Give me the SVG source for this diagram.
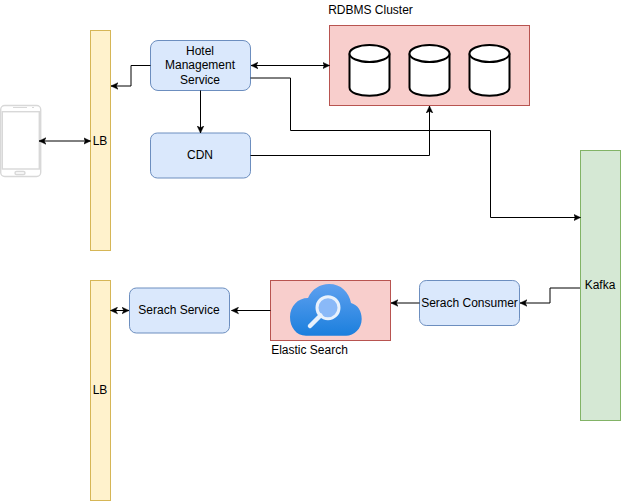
<svg xmlns="http://www.w3.org/2000/svg" width="621" height="501" viewBox="0 0 621 501">
<style>
text{font-family:"Liberation Sans",Arial,sans-serif;font-size:12px;fill:#000;text-anchor:middle}
.lb{fill:#fff2cc;stroke:#d6b656}
.blue{fill:#dae8fc;stroke:#6c8ebf}
.red{fill:#f8cecc;stroke:#b85450}
.green{fill:#d5e8d4;stroke:#82b366}
.c{fill:none;stroke:#000;stroke-width:1}
.db{fill:#fff;stroke:#000;stroke-width:2}
.ph{fill:#fff;stroke:#d8d8d8;stroke-width:1.4}
</style>
<defs>
<marker id="a" markerUnits="userSpaceOnUse" markerWidth="8" markerHeight="8" refX="7" refY="4" orient="auto-start-reverse"><path d="M0 0.700L7 4L0 7.300L1.800 4Z" fill="#000" stroke="#000" stroke-width="0.500"/></marker>
<linearGradient id="cloud" x1="0" y1="0" x2="0" y2="1"><stop offset="0" stop-color="#5ea0ef"/><stop offset="1" stop-color="#1b7fdd"/></linearGradient>
</defs>
<g id="phone">
<rect class="ph" x="0.700" y="105.500" width="40" height="71" rx="4"/>
<rect class="ph" x="2.300" y="111.700" width="37" height="57.300"/>
<rect class="ph" x="15" y="171.500" width="10" height="3" rx="1.500" stroke-width="0.800"/>
<path d="M13 107.500H27M32 107.500H34" stroke="#d8d8d8" stroke-width="1.200" fill="none"/>
</g>
<g id="lb-top"><rect class="lb" x="90.500" y="30.500" width="20" height="220"/><text x="100" y="145">LB</text></g>
<g id="lb-bottom"><rect class="lb" x="90.500" y="280.500" width="20" height="220"/><text x="100" y="394">LB</text></g>
<g id="hotel"><rect class="blue" x="150.500" y="40.500" width="100" height="50" rx="7.500"/><text x="200" y="55">Hotel</text><text x="200" y="69">Management</text><text x="200" y="84">Service</text></g>
<g id="cdn"><rect class="blue" x="150.500" y="133" width="100" height="45" rx="6.750"/><text x="200" y="159">CDN</text></g>
<g id="rdbms"><rect class="red" x="329.500" y="25.500" width="200" height="80"/><text x="370.500" y="14">RDBMS Cluster</text>
<path class="db" d="M349.500 53.500V87.500C349.500 98.500 389.500 98.500 389.500 87.500V53.500"/><ellipse class="db" cx="369.500" cy="53.500" rx="20" ry="8.500"/>
<path class="db" d="M409.500 53.500V87.500C409.500 98.500 449.500 98.500 449.500 87.500V53.500"/><ellipse class="db" cx="429.500" cy="53.500" rx="20" ry="8.500"/>
<path class="db" d="M469.500 53.500V87.500C469.500 98.500 509.500 98.500 509.500 87.500V53.500"/><ellipse class="db" cx="489.500" cy="53.500" rx="20" ry="8.500"/>
</g>
<g id="kafka"><rect class="green" x="580.500" y="150.500" width="40" height="270"/><text x="600" y="289">Kafka</text></g>
<g id="consumer"><rect class="blue" x="419.500" y="280.500" width="100" height="45" rx="6.750"/><text x="469.500" y="307">Serach Consumer</text></g>
<g id="elastic"><rect class="red" x="270.500" y="280.500" width="120" height="60"/>
<path d="M306 335.700C296 335.700 290 327 290 317C290 306 298 298 308 298C312 289 320 284 329 284C341 284 349 292 351 303C358 305 361.700 311 361.700 319C361.700 329 354 335.700 346 335.700Z" fill="url(#cloud)"/>
<circle cx="328" cy="307.700" r="11" fill="#8ab9f8" stroke="#e8f1fc" stroke-width="3"/>
<path d="M320.500 315.500L310 326" stroke="#e8f1fc" stroke-width="4.500" stroke-linecap="round"/>
<text x="309.500" y="354">Elastic Search</text></g>
<g id="search"><rect class="blue" x="129.500" y="288" width="100" height="45" rx="6.750"/><text x="179" y="314">Serach Service</text></g>
<g id="connectors">
<path class="c" d="M39 141H90.500" marker-start="url(#a)" marker-end="url(#a)"/>
<path class="c" d="M150.500 65.500H131V86H111" marker-end="url(#a)"/>
<path class="c" d="M200.500 90.500V133" marker-end="url(#a)"/>
<path class="c" d="M251 65.500H329.500" marker-start="url(#a)" marker-end="url(#a)"/>
<path class="c" d="M250.500 78H290.500V130.500H490.500V217.500H580.500" marker-end="url(#a)"/>
<path class="c" d="M250.500 155.500H429.500V106" marker-end="url(#a)"/>
<path class="c" d="M580 288H550V303H520" marker-end="url(#a)"/>
<path class="c" d="M419.500 303H391" marker-end="url(#a)"/>
<path class="c" d="M270.500 310.500H231.500" marker-end="url(#a)"/>
<path class="c" d="M129 310.500H110.500" marker-start="url(#a)" marker-end="url(#a)"/>
</g>
</svg>
